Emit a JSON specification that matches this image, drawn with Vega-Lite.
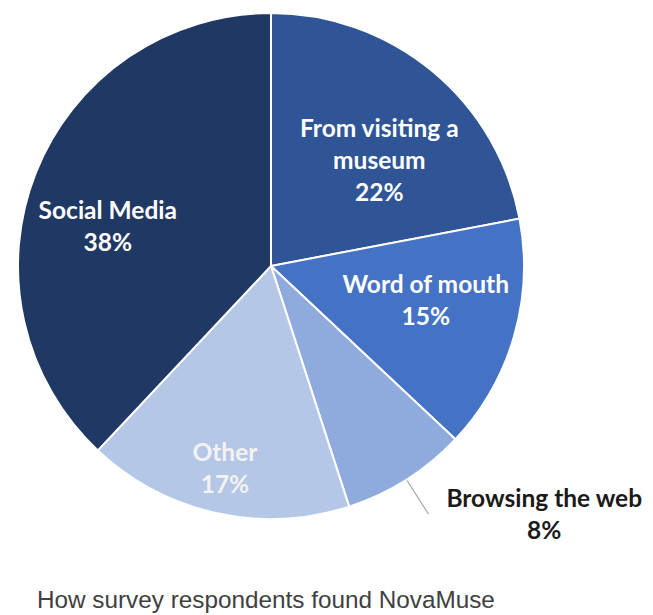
{
  "$schema": "https://vega.github.io/schema/vega-lite/v6.json",
  "width": 542,
  "height": 532,
  "autosize": {"type": "none"},
  "padding": {"left": 0, "top": 0, "right": 111, "bottom": 83},
  "background": "white",
  "view": {"stroke": null},
  "title": {
    "text": "How survey respondents found NovaMuse",
    "orient": "bottom",
    "anchor": "start",
    "frame": "group",
    "dx": 37,
    "offset": 45,
    "font": "Liberation Sans",
    "fontSize": 24.3,
    "fontWeight": "normal",
    "color": "#404040"
  },
  "data": {
    "values": [
      {"category": "From visiting a museum", "value": 22, "order": 1, "label": "From visiting a\nmuseum\n22%"},
      {"category": "Word of mouth", "value": 15, "order": 2, "label": "Word of mouth\n15%"},
      {"category": "Browsing the web", "value": 8, "order": 3, "label": "Browsing the web\n8%"},
      {"category": "Other", "value": 17, "order": 4, "label": "Other\n17%"},
      {"category": "Social Media", "value": 38, "order": 5, "label": "Social Media\n38%"}
    ]
  },
  "transform": [
    {"stack": "value", "groupby": [], "sort": [{"field": "order", "order": "ascending"}], "as": ["v0", "v1"]}
  ],
  "layer": [
    {
      "mark": {"type": "arc", "radius": 253, "stroke": "white", "strokeWidth": 2},
      "encoding": {
        "theta": {"field": "v0", "type": "quantitative", "scale": {"domain": [0, 100]}},
        "theta2": {"field": "v1"},
        "color": {
          "field": "category",
          "type": "nominal",
          "legend": null,
          "scale": {
            "domain": ["From visiting a museum", "Word of mouth", "Browsing the web", "Other", "Social Media"],
            "range": ["#2F5597", "#4472C4", "#8FAADC", "#B4C7E7", "#203864"]
          }
        }
      }
    },
    {
      "transform": [{"filter": "datum.category === 'Browsing the web'"}],
      "mark": {"type": "arc", "radius": 294, "radius2": 254, "padAngle": 1, "fill": null, "stroke": "#A6A6A6", "strokeWidth": 1.2},
      "encoding": {
        "theta": {"field": "v0", "type": "quantitative"},
        "theta2": {"field": "v1"}
      }
    },
    {
      "transform": [{"filter": "datum.category === 'From visiting a museum'"}],
      "mark": {"type": "text", "radius": 174, "thetaOffset": 0.672, "font": "Lato", "fontSize": 24.5, "fontWeight": "bold", "lineHeight": 32, "lineBreak": "\n", "color": "white", "baseline": "middle", "align": "center"},
      "encoding": {
        "theta": {"field": "v0", "type": "quantitative", "stack": null},
        "text": {"field": "label"}
      }
    },
    {
      "transform": [{"filter": "datum.category === 'Word of mouth'"}],
      "mark": {"type": "text", "radius": 156, "thetaOffset": 0.314, "font": "Lato", "fontSize": 24.5, "fontWeight": "bold", "lineHeight": 32, "lineBreak": "\n", "color": "white", "baseline": "middle", "align": "center"},
      "encoding": {
        "theta": {"field": "v0", "type": "quantitative", "stack": null},
        "text": {"field": "label"}
      }
    },
    {
      "transform": [{"filter": "datum.category === 'Other'"}],
      "mark": {"type": "text", "radius": 194, "thetaOffset": 0.554, "font": "Lato", "fontSize": 24.5, "fontWeight": "bold", "lineHeight": 32, "lineBreak": "\n", "color": "#F2F2F2", "baseline": "middle", "align": "center"},
      "encoding": {
        "theta": {"field": "v0", "type": "quantitative", "stack": null},
        "text": {"field": "label"}
      }
    },
    {
      "transform": [{"filter": "datum.category === 'Social Media'"}],
      "mark": {"type": "text", "radius": 172, "thetaOffset": 1.138, "font": "Lato", "fontSize": 24.5, "fontWeight": "bold", "lineHeight": 32, "lineBreak": "\n", "color": "white", "baseline": "middle", "align": "center"},
      "encoding": {
        "theta": {"field": "v0", "type": "quantitative", "stack": null},
        "text": {"field": "label"}
      }
    },
    {
      "transform": [{"filter": "datum.category === 'Browsing the web'"}],
      "mark": {"type": "text", "radius": 360, "thetaOffset": -0.045, "font": "Lato", "fontSize": 24.5, "fontWeight": "bold", "lineHeight": 32, "lineBreak": "\n", "color": "#1A1A1A", "baseline": "middle", "align": "center"},
      "encoding": {
        "theta": {"field": "v0", "type": "quantitative", "stack": null},
        "text": {"field": "label"}
      }
    }
  ]
}
